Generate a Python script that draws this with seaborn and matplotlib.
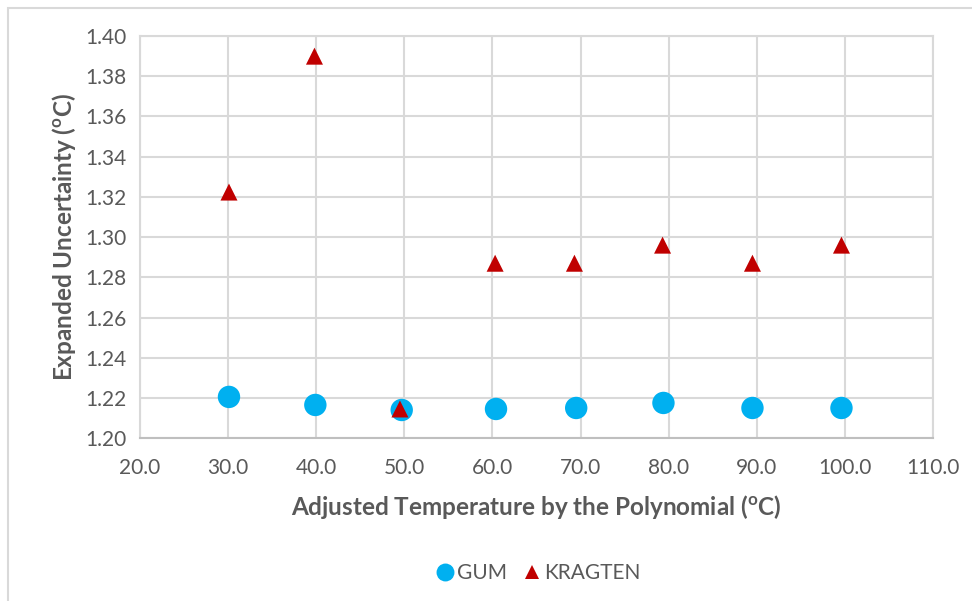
import pandas as pd
import seaborn as sns
import matplotlib.pyplot as plt
from matplotlib.patches import Rectangle

# values
temp_gum = [30.1, 39.9, 49.7, 60.4, 69.5, 79.4, 89.5, 99.6]
u_gum = [1.2205, 1.2165, 1.2140, 1.2145, 1.2150, 1.2175, 1.2150, 1.2150]
temp_kragten = [30.1, 39.8, 49.5, 60.3, 69.3, 79.3, 89.5, 99.6]
u_kragten = [1.3224, 1.3900, 1.2145, 1.2870, 1.2870, 1.2960, 1.2870, 1.2960]
series = ['GUM', 'KRAGTEN']
x_ticks = [20, 30, 40, 50, 60, 70, 80, 90, 100, 110]
y_ticks = [1.20, 1.22, 1.24, 1.26, 1.28, 1.30, 1.32, 1.34, 1.36, 1.38, 1.40]

df = pd.concat([
    pd.DataFrame({'temp': temp_gum, 'u': u_gum, 'method': series[0]}),
    pd.DataFrame({'temp': temp_kragten, 'u': u_kragten, 'method': series[1]}),
])

sns.set_style('white')
plt.rcParams['font.family'] = ['Lato', 'DejaVu Sans']

fig = plt.figure(figsize=(9.72, 6.01), dpi=100)
ax = fig.add_axes([0.144, 0.271, 0.816, 0.669])

# outer chart border like the spreadsheet frame
fig.patches.append(Rectangle((8 / 972, -0.05), 1.1, 1 - 8 / 601 + 0.05, transform=fig.transFigure,
                             fill=False, edgecolor='#D9D9D9', linewidth=1.5))

sns.scatterplot(data=df, x='temp', y='u', hue='method', style='method',
                palette={'GUM': '#00B0F0', 'KRAGTEN': '#C00000'},
                markers={'GUM': 'o', 'KRAGTEN': '^'},
                size='method', sizes={'GUM': 260, 'KRAGTEN': 150},
                linewidth=0, ax=ax, zorder=3)

ax.set_xlim(20, 110)
ax.set_ylim(1.20, 1.40)
ax.set_xticks(x_ticks)
ax.set_yticks(y_ticks)
ax.set_xticklabels([f'{t:.1f}' for t in x_ticks])
ax.set_yticklabels([f'{t:.2f}' for t in y_ticks])
ax.tick_params(axis='both', labelsize=15, colors='#595959', length=0)
ax.tick_params(axis='x', pad=14)
ax.tick_params(axis='y', pad=10)
ax.grid(True, color='#D9D9D9', linewidth=1.5)
for s in ax.spines.values():
    s.set_color('#D9D9D9')
    s.set_linewidth(1.5)
ax.spines['bottom'].set_color('#BFBFBF')

deg = r'$^{\mathregular{o}}$C'
ax.set_xlabel(f'Adjusted Temperature by the Polynomial ({deg})', fontsize=17.5, fontweight='bold',
              color='#595959', labelpad=11)
ax.set_ylabel(f'Expanded Uncertainty ({deg})', fontsize=17.5, fontweight='bold',
              color='#595959', labelpad=5)

handles, labels = ax.get_legend_handles_labels()
ax.legend(handles, labels, loc='upper center', bbox_to_anchor=(0.5, -0.265), ncol=2,
          frameon=False, fontsize=15, labelcolor='#595959', handletextpad=0.0,
          handlelength=1.2, columnspacing=0.6, markerscale=0.8)

fig.savefig('out.png', dpi=100)
